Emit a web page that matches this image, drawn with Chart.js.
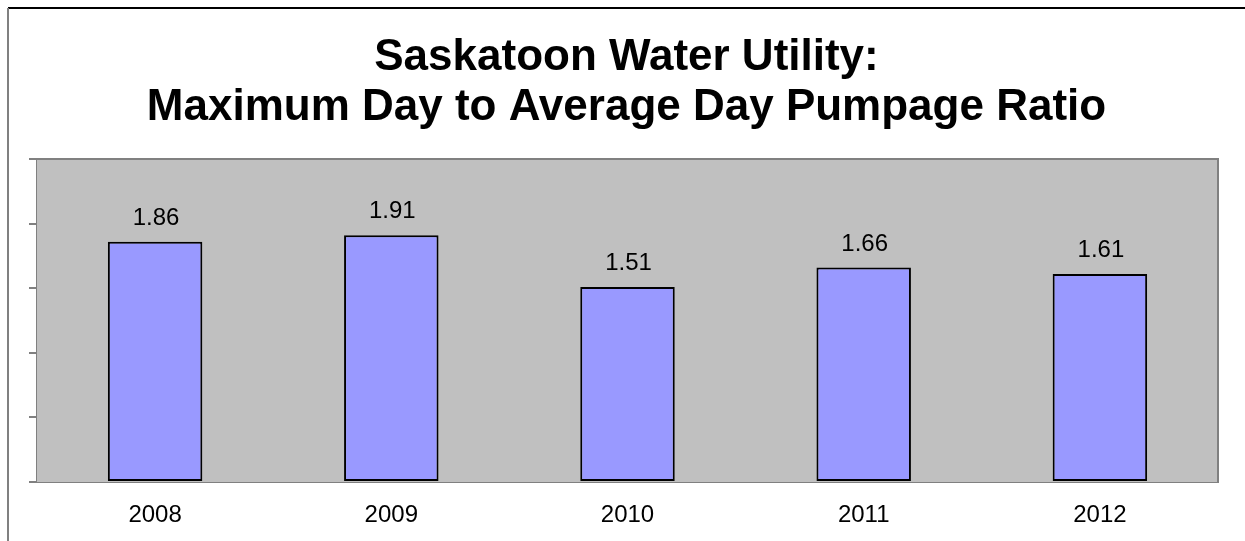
<!DOCTYPE html>
<html>
<head>
<meta charset="utf-8">
<script src="https://cdn.jsdelivr.net/npm/chart.js@4/dist/chart.umd.min.js"></script>
<style>
  html, body { margin: 0; padding: 0; background: #fff; }
  #wrap { width: 1245px; height: 541px; position: relative; }
</style>
</head>
<body>
<div id="wrap"><canvas id="c" width="1245" height="541"></canvas></div>
<script>
var years = ['2008', '2009', '2010', '2011', '2012'];
var ratios = [1.86, 1.91, 1.51, 1.66, 1.61];
var titleLines = ['Saskatoon Water Utility:', 'Maximum Day to Average Day Pumpage Ratio'];

// grey plot background + outer frame lines
var framePlugin = {
  id: 'frame',
  beforeDraw: function(chart) {
    var ctx = chart.ctx;
    ctx.save();
    ctx.strokeStyle = '#000';
    ctx.lineWidth = 2;
    ctx.beginPath();
    ctx.moveTo(8, 8);
    ctx.lineTo(1245, 8);
    ctx.stroke();
    ctx.strokeStyle = '#808080';
    ctx.beginPath();
    ctx.moveTo(8, 8);
    ctx.lineTo(8, 541);
    ctx.stroke();
    ctx.restore();
  },
  beforeDatasetsDraw: function(chart) {
    var a = chart.chartArea, ctx = chart.ctx;
    ctx.save();
    ctx.fillStyle = '#C0C0C0';
    ctx.fillRect(a.left, a.top, a.right - a.left, a.bottom - a.top);
    ctx.strokeStyle = '#808080';
    ctx.lineWidth = 2;
    ctx.beginPath();
    ctx.moveTo(a.left, a.top);
    ctx.lineTo(a.right, a.top);
    ctx.lineTo(a.right, a.bottom);
    ctx.stroke();
    ctx.restore();
  }
};

// value labels over bars
var labelPlugin = {
  id: 'barLabels',
  afterDatasetsDraw: function(chart) {
    var ctx = chart.ctx;
    var meta = chart.getDatasetMeta(0);
    ctx.save();
    ctx.font = '24px "Liberation Sans", Arial, sans-serif';
    ctx.fillStyle = '#000';
    ctx.textAlign = 'center';
    ctx.textBaseline = 'alphabetic';
    meta.data.forEach(function(bar, i) {
      ctx.fillText(ratios[i].toFixed(2), bar.x + 1, bar.y - 17);
    });
    ctx.restore();
  }
};

new Chart(document.getElementById('c'), {
  type: 'bar',
  data: {
    labels: years,
    datasets: [{
      data: ratios,
      backgroundColor: '#9999FF',
      borderColor: '#000',
      borderWidth: 2,
      borderSkipped: false,
      categoryPercentage: 0.4,
      barPercentage: 1
    }]
  },
  options: {
    responsive: false,
    animation: false,
    devicePixelRatio: 1,
    layout: { padding: { left: 8, right: 0, top: 0, bottom: 0 } },
    plugins: {
      legend: { display: false },
      tooltip: { enabled: false },
      title: {
        display: true,
        text: titleLines,
        color: '#000',
        font: { family: '"Liberation Sans", Arial, sans-serif', size: 44, weight: 'bold', lineHeight: '50px' },
        padding: { top: 33, bottom: 26 }
      }
    },
    scales: {
      x: {
        grid: { display: false, drawTicks: false },
        border: { color: '#808080', width: 2 },
        ticks: {
          color: '#000',
          padding: 19,
          font: { family: '"Liberation Sans", Arial, sans-serif', size: 24 }
        },
        afterFit: function(s) { s.height = 59; }
      },
      y: {
        min: 0,
        max: 2.5,
        ticks: { stepSize: 0.5, display: false },
        grid: { drawOnChartArea: false, tickLength: 8, color: '#808080', lineWidth: 2 },
        border: { color: '#808080', width: 2 },
        afterFit: function(s) { s.width = 29; }
      },
      // empty right-hand spacer so the plot ends where the original does
      yRight: {
        position: 'right',
        grid: { display: false },
        border: { display: false },
        ticks: { display: false },
        afterFit: function(s) { s.width = 27; }
      }
    }
  },
  plugins: [framePlugin, labelPlugin]
});
</script>
</body>
</html>
